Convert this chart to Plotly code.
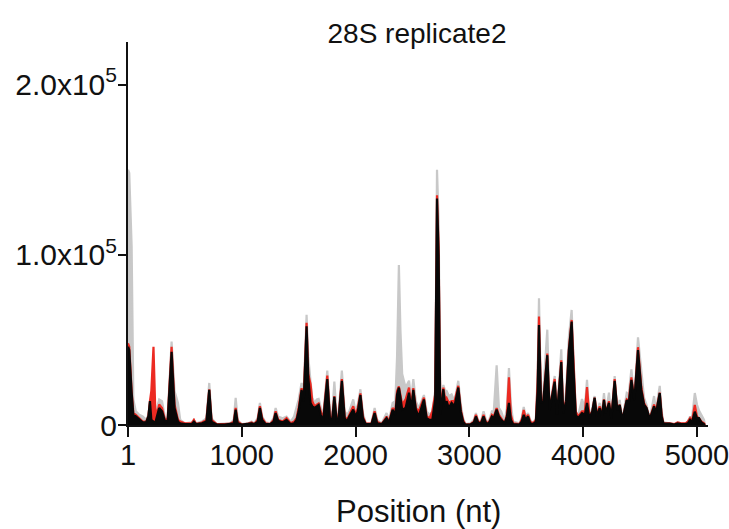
import plotly.graph_objects as go

# Positions (nt) of profile vertices and the three replicate tracks (in thousands of reads)
position = [1, 12, 33, 48, 70, 100, 130, 160, 180, 194, 206, 225, 240, 255, 275, 300, 330, 350, 384, 410,
            440, 460, 500, 560, 580, 600, 650, 690, 715, 735, 780, 850, 900, 930, 947, 965, 1000, 1060, 1087, 1110,
            1140, 1160, 1180, 1210, 1250, 1280, 1298, 1320, 1360, 1394, 1430, 1460, 1482, 1500, 1526, 1545, 1570, 1585, 1605, 1620,
            1640, 1660, 1676, 1695, 1715, 1752, 1775, 1795, 1814, 1835, 1850, 1880, 1905, 1925, 1945, 1980, 2000, 2020, 2043, 2065,
            2090, 2140, 2168, 2190, 2230, 2273, 2295, 2326, 2350, 2365, 2381, 2395, 2410, 2440, 2470, 2490, 2508, 2530, 2555, 2601,
            2625, 2650, 2675, 2700, 2716, 2730, 2745, 2758, 2772, 2788, 2800, 2820, 2844, 2870, 2903, 2925, 2945, 2965, 3010, 3040,
            3058, 3080, 3105, 3125, 3150, 3175, 3198, 3215, 3240, 3260, 3280, 3310, 3330, 3348, 3365, 3385, 3440, 3460, 3478, 3495,
            3516, 3535, 3560, 3585, 3600, 3612, 3630, 3650, 3685, 3705, 3750, 3770, 3808, 3825, 3850, 3875, 3899, 3915, 3935, 3955,
            3990, 4015, 4034, 4055, 4080, 4101, 4120, 4145, 4165, 4183, 4200, 4227, 4248, 4277, 4300, 4321, 4345, 4383, 4400, 4424,
            4450, 4482, 4511, 4535, 4557, 4585, 4623, 4640, 4673, 4690, 4705, 4760, 4800, 4830, 4860, 4900, 4920, 4939, 4955, 4981,
            5000, 5018, 5040, 5062, 5070]

gray_k = [150, 148, 105, 15, 8, 6, 5, 3, 6, 14, 4, 8, 6, 10, 15, 14, 3, 5, 49, 20,
          13, 3, 1, 1.5, 3, 1, 2, 4, 24.7, 4, 0.5, 0.8, 1, 3, 16, 3, 0.5, 1, 2, 1,
          4, 13, 5, 1.5, 1, 4, 10, 5, 4, 5, 2, 5, 11, 15, 24.7, 20, 64.7, 40, 25.5, 16,
          13, 15, 15.3, 10, 5, 32, 8, 6, 25.5, 5, 6, 32, 8, 6, 8, 15, 8, 12, 21, 7,
          1, 1, 10, 3, 1, 7, 3, 13, 14, 40, 94, 55, 30, 22, 26, 15, 27, 14, 10, 17.6,
          8, 6, 8, 20, 150, 120, 15, 18, 23.5, 20, 20, 17, 18, 14, 26, 12, 4, 0.5, 1, 3,
          7, 2, 3, 8, 2, 3, 8, 8, 35, 10, 8, 2, 10, 33.5, 12, 2, 1, 4, 10.6, 5,
          7, 3, 1, 4, 30, 74.5, 14.7, 20, 56, 10, 28.8, 6, 44.5, 7, 20, 52, 67.6, 40, 8, 5,
          15.3, 10, 26.5, 5, 10, 17, 7, 13, 7, 18.8, 7, 19, 4, 28.8, 8.8, 14.7, 3, 18.8, 18, 32.7,
          14.7, 51.5, 34, 16, 11.8, 3.5, 17, 8.8, 23, 8, 1.5, 1, 0.5, 1.5, 1, 1, 2, 5, 3, 18.8,
          12, 8.5, 6, 3, 0]

red_k = [48, 46, 20, 7, 6, 4, 2, 2, 5, 14, 20, 46, 10, 6, 12, 10, 2, 4, 46, 12,
         3, 2, 1, 1, 3, 0.5, 1.5, 3, 21, 3, 0.5, 0.5, 0.8, 2, 10, 2, 0.3, 0.8, 1.5, 0.5,
         3, 11, 4, 1, 0.5, 3, 8, 3, 2, 4, 1, 2, 4, 10, 21.6, 17, 60, 30, 24, 14,
         11, 12, 12.7, 8, 3, 29, 5, 4, 17, 3, 4, 27, 5, 3, 6, 11, 6, 10, 18.6, 5,
         0.8, 0.8, 8, 2, 0.5, 5, 2, 10, 8, 20, 22.7, 18, 12, 15, 22, 11, 21.6, 10, 8, 16,
         5, 4, 8, 18, 135, 105, 8, 16, 22, 15, 16, 13, 14, 14, 23, 9, 3, 0.3, 0.5, 2,
         6, 1.5, 2, 6, 1, 2, 6, 5, 10, 6, 4, 1, 6, 28, 6, 1, 0.5, 3, 8.8, 4,
         6, 2, 1, 3, 25, 63.7, 14, 15, 42, 9, 27, 6, 38, 7, 15, 45, 61.7, 35, 8, 5,
         8, 8, 22.3, 5, 8, 16, 6, 11, 6, 15, 7, 14, 4, 27, 8.8, 12, 3, 15, 14, 28,
         14.7, 45.7, 22.3, 13, 10, 3.5, 12, 8, 19, 6, 1, 1, 0.5, 1.5, 1, 1, 2, 4, 2, 11.8,
         5, 4, 2, 1, 0]

black_k = [46, 44, 19, 6, 5, 3, 1.5, 1.5, 5, 14, 3, 2, 1, 5, 10, 8, 1.5, 3, 43, 10,
           2, 1, 0.5, 0.5, 2, 0.5, 1, 2, 20.6, 2, 0.3, 0.3, 0.5, 1, 9, 1, 0.2, 0.5, 1, 0.5,
           2, 10, 3, 0.5, 0.5, 2, 7, 2.5, 1.5, 3, 0.5, 1, 3, 8, 20.6, 14, 58, 28, 13, 11,
           10, 11, 11.8, 6, 2, 27, 4, 3, 16.5, 2, 3, 26, 4, 2, 5, 9, 5, 8, 17.6, 4,
           0.5, 0.5, 7, 1, 0.5, 4, 1.5, 9, 6, 18, 22, 16, 9, 10, 19, 9, 20.6, 9, 5, 15,
           4, 3, 3, 15, 133, 100, 6, 13, 21, 11, 14, 10, 13, 11, 22, 8, 2, 0.2, 0.3, 1.5,
           5, 1, 1.5, 5, 0.5, 1.5, 5, 4, 9, 5, 3, 1, 5, 13, 3, 0.5, 0.3, 2, 6, 3,
           5, 1, 0.5, 2, 20, 58.8, 13, 14, 41, 8.8, 25.5, 6, 37, 7, 14, 44, 60.8, 33, 6, 4,
           7, 6, 13, 4, 8, 16, 5, 10, 5, 14.7, 7, 13, 4, 26, 8.8, 11.8, 3, 14.7, 12, 26.5,
           14.7, 44, 20.6, 12, 10, 3.5, 11, 7, 18.8, 5, 1, 0.8, 0.3, 1, 0.5, 0.5, 1, 3, 1.5, 7.8,
           4, 4, 1.5, 0.5, 0]

x_tick_vals = [1, 1000, 2000, 3000, 4000, 5000]
x_tick_text = ["1", "1000", "2000", "3000", "4000", "5000"]
y_tick_vals = [0, 100000, 200000]
y_tick_text = ["0", "1.0x10<sup>5</sup>", "2.0x10<sup>5</sup>"]

series = [("gray", gray_k, "#c8c8c8"), ("red", red_k, "#ec2a22"), ("black", black_k, "#080808")]

fig = go.Figure()
for name, vals, col in series:
    fig.add_trace(go.Scatter(
        x=position, y=[v * 1000 for v in vals], mode="lines", name=name,
        line=dict(color=col, width=2.2), fill="tozeroy", fillcolor=col,
        hoverinfo="skip", showlegend=False))

FONT = "Liberation Sans, Arial, Helvetica, sans-serif"
INK = "#111111"
fig.update_layout(
    width=729, height=529,
    margin=dict(l=128, r=21, t=42, b=104, autoexpand=False),
    paper_bgcolor="white", plot_bgcolor="white",
    font=dict(family=FONT, size=29, color=INK),
    title=dict(text="28S replicate2", x=417 / 729, xanchor="center", y=1 - 33 / 529, yanchor="middle",
               yref="container", font=dict(size=28, family=FONT, color=INK)),
    xaxis=dict(range=[1, 5097], tickmode="array", tickvals=x_tick_vals, ticktext=x_tick_text,
               showgrid=False, zeroline=False, showline=True, linecolor=INK, linewidth=2,
               ticks="outside", ticklen=10, tickwidth=2, tickcolor=INK, ticklabelstandoff=-7,
               ticklabeloverflow="allow", automargin=False,
               tickfont=dict(size=29, family=FONT, color=INK)),
    yaxis=dict(range=[0, 225000], tickmode="array", tickvals=y_tick_vals, ticktext=y_tick_text,
               showgrid=False, zeroline=False, showline=True, linecolor=INK, linewidth=2,
               ticks="outside", ticklen=8, tickwidth=2, tickcolor=INK, ticklabelstandoff=-5,
               ticklabeloverflow="allow", automargin=False,
               tickfont=dict(size=30, family=FONT, color=INK)),
    annotations=[dict(text="Position (nt)", x=0.5, y=(425 - 512) / 383, xref="paper", yref="paper",
                      xanchor="center", yanchor="middle", showarrow=False,
                      font=dict(size=31, family=FONT, color=INK))],
)

fig.write_html("out.html")
